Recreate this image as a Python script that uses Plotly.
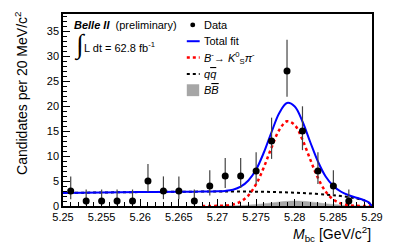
import plotly.graph_objects as go

# ---- data ----
bin_centers = [5.251, 5.253, 5.255, 5.257, 5.259, 5.261, 5.263, 5.265, 5.267, 5.269,
               5.271, 5.273, 5.275, 5.277, 5.279, 5.281, 5.283, 5.285, 5.287]
counts = [3, 1, 1, 1, 1, 5, 3, 3, 1, 4, 6, 6, 7, 13, 27, 15, 7, 4, 1]
err_hi = [2.92, 2.30, 2.30, 2.30, 2.30, 3.38, 2.92, 2.92, 2.30, 3.16,
          3.58, 3.58, 3.77, 4.67, 6.26, 4.94, 3.77, 3.16, 2.30]
err_lo = [1.63, 0.83, 0.83, 0.83, 0.83, 2.16, 1.63, 1.63, 0.83, 1.91,
          2.38, 2.38, 2.58, 3.58, 5.16, 3.83, 2.58, 1.91, 0.83]

fit_x = [5.250, 5.255, 5.260, 5.265, 5.266, 5.267, 5.268, 5.269, 5.270, 5.271,
         5.272, 5.273, 5.274, 5.275, 5.276, 5.277, 5.278, 5.279, 5.280, 5.281,
         5.282, 5.283, 5.284, 5.285, 5.286, 5.287, 5.288, 5.289, 5.2895, 5.290]
total_fit = [2.62, 2.70, 2.78, 2.85, 2.86, 2.87, 2.88, 2.90, 2.93, 3.02,
             3.26, 3.87, 5.10, 7.30, 10.7, 14.8, 18.6, 20.6, 19.9, 16.9,
             12.8, 8.9, 5.9, 4.0, 2.85, 2.15, 1.65, 1.15, 0.80, 0.0]

sig_x = [5.268, 5.269, 5.270, 5.271, 5.272, 5.273, 5.274, 5.275, 5.276, 5.277,
         5.278, 5.279, 5.280, 5.281, 5.282, 5.283, 5.284, 5.285, 5.286, 5.287,
         5.288, 5.289, 5.290]
sig_fit = [0.0, 0.01, 0.03, 0.10, 0.31, 0.88, 2.12, 4.38, 7.74, 11.71,
           15.22, 16.95, 16.19, 13.25, 9.33, 5.60, 2.89, 1.28, 0.49, 0.16,
           0.04, 0.01, 0.0]

qq_x = [5.250, 5.255, 5.260, 5.265, 5.270, 5.272, 5.274, 5.276, 5.278, 5.280,
        5.282, 5.284, 5.285, 5.286, 5.287, 5.288, 5.289, 5.2895, 5.290]
qq_fit = [2.62, 2.70, 2.78, 2.85, 2.90, 2.90, 2.88, 2.84, 2.76, 2.66,
          2.51, 2.29, 2.15, 1.98, 1.77, 1.50, 1.10, 0.78, 0.0]

bb_x = [5.270, 5.271, 5.272, 5.273, 5.274, 5.275, 5.276, 5.277, 5.278, 5.279,
        5.280, 5.281, 5.282, 5.283, 5.284, 5.285, 5.286, 5.287, 5.288, 5.289, 5.290]
bb_fit = [0.0, 0.02, 0.05, 0.10, 0.18, 0.30, 0.45, 0.62, 0.80, 0.93,
          1.00, 0.95, 0.82, 0.64, 0.45, 0.30, 0.18, 0.10, 0.05, 0.02, 0.0]

x_ticks = [5.25, 5.255, 5.26, 5.265, 5.27, 5.275, 5.28, 5.285, 5.29]
x_ticklabels = ["5.25", "5.255", "5.26", "5.265", "5.27", "5.275", "5.28", "5.285", "5.29"]
y_ticks = [0, 5, 10, 15, 20, 25, 30, 35]

FONT = "Liberation Sans, Arial, sans-serif"

fig = go.Figure()

fig.add_trace(go.Scatter(x=bb_x, y=bb_fit, mode="lines", fill="tozeroy",
                         line=dict(color="#a6a6a6", width=0.5, shape="spline"),
                         fillcolor="#a6a6a6", showlegend=False))
fig.add_trace(go.Scatter(x=qq_x, y=qq_fit, mode="lines",
                         line=dict(color="black", width=2, dash="dot", shape="spline"),
                         showlegend=False))
fig.add_trace(go.Scatter(x=sig_x, y=sig_fit, mode="lines",
                         line=dict(color="#ff0000", width=2.5, dash="dot", shape="spline"),
                         showlegend=False))
fig.add_trace(go.Scatter(x=fit_x, y=total_fit, mode="lines",
                         line=dict(color="#0000ff", width=2, shape="spline"),
                         showlegend=False))
fig.add_trace(go.Scatter(x=bin_centers, y=counts, mode="markers",
                         marker=dict(color="black", size=7),
                         error_y=dict(type="data", symmetric=False, array=err_hi,
                                      arrayminus=err_lo, color="#444444",
                                      thickness=1.2, width=0),
                         showlegend=False))

L, R, T, B = 63, 20, 12, 40
W, H = 395, 246
PW, PH = W - L - R, H - T - B


def px(x):
    return (x - L) / PW


def py(y):
    return (H - B - y) / PH


# manual legend
shapes = []
shapes.append(dict(type="circle", xref="paper", yref="paper",
                   x0=px(191.5), x1=px(196.5), y0=py(25.5), y1=py(20.5),
                   fillcolor="black", line=dict(color="black", width=0)))
shapes.append(dict(type="line", xref="paper", yref="paper",
                   x0=px(188), x1=px(201), y0=py(39.5), y1=py(39.5),
                   line=dict(color="#0000ff", width=2)))
shapes.append(dict(type="line", xref="paper", yref="paper",
                   x0=px(188), x1=px(201), y0=py(56), y1=py(56),
                   line=dict(color="#ff0000", width=2.5, dash="dot")))
shapes.append(dict(type="line", xref="paper", yref="paper",
                   x0=px(188), x1=px(201), y0=py(72.5), y1=py(72.5),
                   line=dict(color="black", width=2, dash="dot")))
shapes.append(dict(type="rect", xref="paper", yref="paper",
                   x0=px(188), x1=px(200.5), y0=py(95), y1=py(83),
                   fillcolor="#a6a6a6", line=dict(width=0)))

OVL = "<span style='text-decoration:overline'>"
annotations = []
leg_texts = ["Data", "Total fit",
             "<i>B</i><sup>-</sup>\u2192 <i>K</i><sup>0</sup><sub>S</sub><i>\u03c0</i><sup>-</sup>",
             "<i>q</i>" + OVL + "<i>q</i></span>",
             "<i>B</i>" + OVL + "<i>B</i></span>"]
leg_y = [23, 39.5, 56, 72.5, 89]
for t, yy in zip(leg_texts, leg_y):
    annotations.append(dict(xref="paper", yref="paper", x=px(203), y=py(yy),
                            text=t, showarrow=False, xanchor="left", yanchor="middle",
                            font=dict(family=FONT, size=11, color="black")))

annotations.append(dict(xref="paper", yref="paper", x=px(72), y=py(23),
                        text="<b><i>Belle II</i></b>  (preliminary)", showarrow=False,
                        xanchor="left", yanchor="middle",
                        font=dict(family=FONT, size=11, color="black")))
annotations.append(dict(xref="paper", yref="paper", x=px(72), y=py(43),
                        text="\u222b", showarrow=False,
                        xanchor="left", yanchor="middle",
                        font=dict(family="Liberation Serif", size=27, color="black")))
annotations.append(dict(xref="paper", yref="paper", x=px(82), y=py(45),
                        text="L dt = 62.8 fb<sup>-1</sup>", showarrow=False,
                        xanchor="left", yanchor="middle",
                        font=dict(family=FONT, size=11, color="black")))
annotations.append(dict(xref="paper", yref="paper", x=px(376), y=py(234),
                        text="<i>M</i><sub>bc</sub> [GeV/c<sup>2</sup>]", showarrow=False,
                        xanchor="right", yanchor="middle",
                        font=dict(family=FONT, size=14, color="black")))
annotations.append(dict(xref="paper", yref="paper", x=px(20), y=py(8),
                        text="Candidates per 20 MeV/c<sup>2</sup>", showarrow=False,
                        textangle=-90, xanchor="center", yanchor="top",
                        font=dict(family=FONT, size=14, color="black")))

fig.update_layout(
    width=W, height=H,
    margin=dict(l=L, r=R, t=T, b=B),
    paper_bgcolor="white", plot_bgcolor="white",
    shapes=shapes, annotations=annotations,
    font=dict(family=FONT, size=11, color="black"),
    xaxis=dict(range=[5.25, 5.29], tickvals=x_ticks, ticktext=x_ticklabels,
               ticks="inside", ticklen=7, tickwidth=1, tickcolor="black",
               showline=True, linecolor="black", linewidth=1.5, mirror=True,
               showgrid=False, zeroline=False,
               minor=dict(dtick=0.001, ticks="inside", ticklen=4, tickcolor="black", showgrid=False),
               tickfont=dict(family=FONT, size=11)),
    yaxis=dict(range=[0, 38.4], tickvals=y_ticks,
               ticks="inside", ticklen=7, tickwidth=1, tickcolor="black",
               showline=True, linecolor="black", linewidth=1.5, mirror=True,
               showgrid=False, zeroline=False,
               minor=dict(dtick=1, ticks="inside", ticklen=4, tickcolor="black", showgrid=False),
               tickfont=dict(family=FONT, size=11)),
)

fig.write_html("out.html", config={"displayModeBar": False},
               post_script="document.body.style.margin='0';document.body.style.padding='0';")
